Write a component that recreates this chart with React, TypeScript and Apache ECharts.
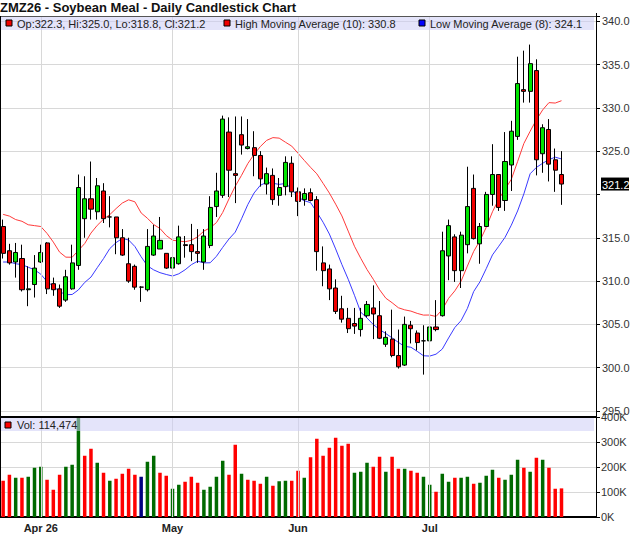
import React, { useEffect, useRef } from "react";
import * as echarts from "echarts";

// ---- data ----
const dates: string[] = [
  "2026-03-24", "2026-03-25", "2026-03-26", "2026-03-27", "2026-03-30", "2026-03-31",
  "2026-04-01", "2026-04-02", "2026-04-06", "2026-04-07", "2026-04-08", "2026-04-09", "2026-04-10",
  "2026-04-13", "2026-04-14", "2026-04-15", "2026-04-16", "2026-04-17",
  "2026-04-20", "2026-04-21", "2026-04-22", "2026-04-23", "2026-04-24",
  "2026-04-27", "2026-04-28", "2026-04-29", "2026-04-30",
  "2026-05-01", "2026-05-04", "2026-05-05", "2026-05-06", "2026-05-07", "2026-05-08",
  "2026-05-11", "2026-05-12", "2026-05-13", "2026-05-14", "2026-05-15",
  "2026-05-18", "2026-05-19", "2026-05-20", "2026-05-21", "2026-05-22",
  "2026-05-26", "2026-05-27", "2026-05-28", "2026-05-29",
  "2026-06-01", "2026-06-02", "2026-06-03", "2026-06-04", "2026-06-05",
  "2026-06-08", "2026-06-09", "2026-06-10", "2026-06-11", "2026-06-12",
  "2026-06-15", "2026-06-16", "2026-06-17", "2026-06-18",
  "2026-06-22", "2026-06-23", "2026-06-24", "2026-06-25", "2026-06-26",
  "2026-06-29", "2026-06-30",
  "2026-07-01", "2026-07-02", "2026-07-06", "2026-07-07", "2026-07-08", "2026-07-09", "2026-07-10",
  "2026-07-13", "2026-07-14", "2026-07-15", "2026-07-16", "2026-07-17",
  "2026-07-20", "2026-07-21", "2026-07-22", "2026-07-23", "2026-07-24",
  "2026-07-27", "2026-07-28", "2026-07-29", "2026-07-30", "2026-07-31",
];
const futureDates: string[] = ["2026-08-03", "2026-08-04", "2026-08-05", "2026-08-06", "2026-08-07"];

const monthLabels: Record<string, string> = {
  "2026-04-01": "Apr 26",
  "2026-05-01": "May",
  "2026-06-01": "Jun",
  "2026-07-01": "Jul",
};

const opens: number[] = [
  316.3, 313.5, 312.2, 312.6, 309.0, 309.6, 312.2, 314.4, 309.7, 309.1,
  307.8, 309.1, 311.8, 317.2, 319.5, 318.0, 320.4, 317.4, 317.4, 315.0,
  312.0, 311.7, 309.3, 309.0, 313.0, 313.7, 313.2, 311.5, 312.0, 314.2,
  314.2, 313.4, 312.2, 314.1, 318.6, 319.9, 327.2, 322.4, 326.9, 325.3,
  325.4, 324.5, 321.2, 322.2, 319.9, 320.9, 323.6, 320.3, 319.4, 320.2,
  319.4, 312.1, 311.4, 309.2, 306.8, 305.7, 305.1, 304.4, 306.0, 306.9,
  306.0, 302.7, 303.3, 301.4, 300.3, 304.9, 304.0, 303.1, 303.1, 304.7,
  306.0, 312.9, 315.1, 311.2, 314.2, 320.7, 314.3, 316.3, 320.0, 322.3,
  319.3, 323.4, 326.7, 332.1, 331.9, 334.3, 324.7, 327.5, 324.0, 322.3,
];
const closes: number[] = [
  313.2, 312.1, 313.3, 309.0, 309.1, 311.5, 313.3, 309.1, 309.0, 307.1,
  310.5, 312.1, 320.8, 319.5, 318.3, 321.0, 317.2, 317.4, 315.0, 313.0,
  310.0, 309.3, 309.3, 314.0, 315.2, 314.7, 311.5, 312.7, 315.1, 314.1,
  313.4, 313.2, 315.2, 318.5, 320.4, 328.7, 322.8, 322.2, 325.7, 325.5,
  324.5, 321.8, 322.4, 319.4, 320.8, 323.7, 320.3, 319.2, 320.1, 319.3,
  313.4, 311.2, 309.1, 306.5, 305.6, 304.5, 304.8, 305.7, 307.3, 306.2,
  303.4, 303.5, 301.4, 300.1, 305.0, 304.5, 302.9, 303.1, 304.7, 304.4,
  313.5, 316.4, 311.2, 315.3, 318.6, 314.9, 316.3, 320.0, 322.3, 318.5,
  323.8, 327.3, 332.8, 331.9, 335.1, 324.0, 327.7, 323.5, 322.8, 321.2,
];
const highs: number[] = [
  317.1, 314.3, 314.4, 314.2, 311.7, 313.0, 314.2, 314.5, 310.4, 309.6,
  311.3, 314.2, 322.3, 322.1, 323.8, 321.9, 321.3, 319.8, 317.4, 316.0,
  315.0, 311.9, 309.4, 316.0, 316.5, 317.4, 313.2, 314.4, 316.4, 315.2,
  316.6, 316.0, 316.0, 319.8, 322.5, 329.1, 328.9, 329.0, 329.0, 328.7,
  327.3, 325.0, 323.1, 323.0, 321.9, 324.4, 324.4, 320.8, 320.7, 320.7,
  319.8, 314.0, 311.9, 310.2, 308.3, 306.9, 306.9, 306.9, 307.7, 309.5,
  307.7, 304.2, 306.7, 304.4, 305.9, 305.4, 304.3, 304.9, 307.8, 307.8,
  315.7, 317.1, 315.4, 315.7, 323.2, 322.3, 316.7, 320.3, 325.8, 322.3,
  327.2, 328.5, 335.9, 336.6, 337.3, 335.6, 328.1, 328.7, 325.3, 325.0,
];
const lows: number[] = [
  312.6, 311.9, 310.4, 308.8, 307.1, 308.1, 312.1, 308.5, 308.3, 306.9,
  307.6, 309.0, 311.3, 315.0, 317.1, 317.1, 316.7, 316.2, 313.1, 312.9,
  309.8, 309.0, 307.6, 308.8, 312.9, 313.7, 311.4, 311.4, 311.9, 312.7,
  312.3, 312.1, 311.3, 313.8, 317.4, 319.6, 319.7, 319.0, 324.6, 325.2,
  322.1, 320.9, 320.0, 318.8, 318.7, 319.9, 319.7, 317.5, 318.7, 319.2,
  311.2, 309.4, 307.8, 306.2, 305.2, 304.0, 303.9, 303.6, 305.8, 303.3,
  303.3, 302.4, 301.2, 299.9, 300.2, 302.8, 302.0, 299.2, 303.0, 304.2,
  305.9, 310.1, 309.9, 309.2, 313.2, 314.8, 312.0, 316.3, 318.7, 318.1,
  318.1, 320.4, 326.3, 330.6, 330.6, 322.2, 322.5, 321.5, 320.3, 318.8,
];
const volumes: number[] = [
  145000, 169000, 157000, 157000, 161000, 197000, 201000, 149000, 109000, 169000,
  201000, 209000, 412000, 245000, 273000, 217000, 177000, 145000, 153000, 173000,
  193000, 169000, 161000, 221000, 245000, 177000, 165000, 113000, 129000, 141000,
  161000, 137000, 109000, 121000, 161000, 225000, 169000, 289000, 173000, 149000,
  145000, 133000, 161000, 125000, 143000, 145000, 145000, 185000, 157000, 239000,
  313000, 245000, 277000, 317000, 285000, 293000, 177000, 181000, 217000, 201000,
  241000, 181000, 241000, 193000, 193000, 185000, 177000, 161000, 129000, 101000,
  173000, 141000, 157000, 157000, 161000, 133000, 137000, 165000, 189000, 157000,
  149000, 169000, 229000, 197000, 181000, 237000, 229000, 197000, 113000, 114474,
];
// moving-average values at the left edge (their earlier days are not on the chart)
const highMaLead: number[] = [317.7, 317.5, 317.1, 316.9, 316.5, 316.4, 316.3, 315.5, 314.5];
const lowMaLead: number[] = [312.2, 312.2, 312.0, 311.9, 311.6, 311.3, 310.8];
const HIGH_MA_N = 10;
const LOW_MA_N = 8;

const UP_CANDLE = "#00e400";
const DOWN_CANDLE = "#f00000";
const UP_VOL = "#006a00";
const DOWN_VOL = "#ff0000";
const FLAT_VOL = "#000080";
const GRID = "#d8d8d8";
const FONT = "'Liberation Sans', Arial, sans-serif";

function avg(a: number[]) {
  return a.reduce((s, v) => s + v, 0) / a.length;
}

export default function App() {
  const ref = useRef<HTMLDivElement>(null);
  useEffect(() => {
    if (!ref.current) return;
    const chart = echarts.init(ref.current, null, { renderer: "svg" });
    const n = dates.length;
    const cats = [...dates, ...futureDates];
    const candleData = dates.map((_, i) => [opens[i], closes[i], lows[i], highs[i]]);
    const highMa = highs.map((_, i) =>
      i < HIGH_MA_N - 1 ? highMaLead[i] : avg(highs.slice(i - HIGH_MA_N + 1, i + 1))
    );
    const lowMa = lows.map((_, i) =>
      i < LOW_MA_N - 1 ? lowMaLead[i] : avg(lows.slice(i - LOW_MA_N + 1, i + 1))
    );
    const volData = volumes.map((v, i) => {
      const prev = i === 0 ? opens[0] : closes[i - 1];
      const c = closes[i] > prev ? UP_VOL : closes[i] < prev ? DOWN_VOL : FLAT_VOL;
      return { value: v, itemStyle: { color: c } };
    });
    const last = n - 1;
    const lastClose = closes[last];
    const vLines = Object.keys(monthLabels).map((d) => ({ xAxis: d }));
    const vLineStyle = { color: GRID, width: 1, type: "solid" as const };

    const legendText = (x: number, y: number, text: string) => ({
      type: "text",
      x,
      y,
      z: 102,
      style: { text, fill: "#222", font: `11px ${FONT}`, textVerticalAlign: "middle" },
    });
    const square = (x: number, y: number, fill: string) => ({
      type: "rect",
      z: 102,
      shape: { x, y, width: 6, height: 6 },
      style: { fill, stroke: "#000", lineWidth: 1 },
    });

    const graphics: any[] = [
      // price pane legend strip
      {
        type: "rect",
        z: 100,
        shape: { x: 0, y: 16, width: 594, height: 14 },
        style: { fill: "rgba(205,205,245,0.55)" },
      },
      {
        type: "line",
        z: 101,
        shape: { x1: 0, y1: 16.5, x2: 596, y2: 16.5 },
        style: { stroke: "#555", lineWidth: 1 },
      },
      square(6, 20, DOWN_CANDLE),
      legendText(
        17,
        23.5,
        `Op:${opens[last].toFixed(1)}, Hi:${highs[last].toFixed(1)}, Lo:${lows[last].toFixed(
          1
        )}, Cl:${closes[last].toFixed(1)}`
      ),
      square(224, 20, DOWN_CANDLE),
      legendText(235, 23.5, `High Moving Average (${HIGH_MA_N}): ${highMa[last].toFixed(1)}`),
      square(419, 20, "#0000ff"),
      legendText(430, 23.5, `Low Moving Average (${LOW_MA_N}): ${lowMa[last].toFixed(1)}`),
      // volume pane legend strip
      {
        type: "rect",
        z: 100,
        shape: { x: 0, y: 418, width: 594, height: 13 },
        style: { fill: "rgba(205,205,245,0.55)" },
      },
      {
        type: "line",
        z: 101,
        shape: { x1: 0, y1: 417, x2: 596, y2: 417 },
        style: { stroke: "#000", lineWidth: 2 },
      },
      square(5, 422, DOWN_VOL),
      legendText(17, 425, `Vol: ${volumes[last].toLocaleString("en-US")}`),
      // frame lines
      {
        type: "line",
        z: 101,
        shape: { x1: 0.5, y1: 16, x2: 0.5, y2: 517 },
        style: { stroke: "#000", lineWidth: 1 },
      },
      {
        type: "line",
        z: 101,
        shape: { x1: 596.5, y1: 13, x2: 596.5, y2: 518 },
        style: { stroke: "#000", lineWidth: 1 },
      },
    ];

    chart.setOption({
      animation: false,
      textStyle: { fontFamily: FONT },
      title: {
        text: "ZMZ26 - Soybean Meal - Daily Candlestick Chart",
        left: 0,
        top: 0,
        padding: [1, 0, 0, 0],
        textStyle: { fontSize: 13, fontWeight: "bold", color: "#111", fontFamily: FONT },
      },
      grid: [
        { left: 0, right: 44, top: 16, height: 395 },
        { left: 0, right: 44, top: 417, height: 100 },
      ],
      xAxis: [
        {
          type: "category",
          gridIndex: 0,
          data: cats,
          boundaryGap: true,
          axisLine: { show: false },
          axisTick: { show: false },
          axisLabel: { show: false },
          splitLine: { show: false },
        },
        {
          type: "category",
          gridIndex: 1,
          data: cats,
          boundaryGap: true,
          axisLine: { show: true, lineStyle: { color: "#000", width: 2 } },
          axisTick: { show: false },
          axisLabel: {
            show: true,
            interval: (_i: number, v: string) => !!monthLabels[v],
            formatter: (v: string) => monthLabels[v] || "",
            fontSize: 11,
            fontWeight: "bold",
            color: "#222",
            margin: 5,
          },
          splitLine: { show: false },
        },
      ],
      yAxis: [
        {
          type: "value",
          gridIndex: 0,
          position: "right",
          min: 295,
          max: 340.6,
          interval: 5,
          axisLine: { show: true, lineStyle: { color: "#000" } },
          axisTick: { show: true, length: 4, lineStyle: { color: "#000" } },
          axisLabel: {
            fontSize: 11,
            color: "#333",
            margin: 6,
            hideOverlap: false,
            formatter: (v: number) => {
              const r = Math.round(v * 10) / 10;
              if (Math.abs(r / 5 - Math.round(r / 5)) > 1e-6) return "";
              if (Math.abs(r - lastClose) < 1.5) return "";
              return r.toFixed(1);
            },
          },
          splitLine: { show: true, lineStyle: { color: GRID, width: 1 } },
        },
        {
          type: "value",
          gridIndex: 1,
          position: "right",
          min: 0,
          max: 400000,
          interval: 100000,
          axisLine: { show: true, lineStyle: { color: "#000" } },
          axisTick: { show: true, length: 4, lineStyle: { color: "#000" } },
          axisLabel: {
            fontSize: 11,
            color: "#333",
            margin: 5,
            formatter: (v: number) => `${Math.round(v / 1000)}K`,
          },
          splitLine: { show: true, lineStyle: { color: GRID, width: 1 } },
        },
      ],
      series: [
        {
          type: "line",
          name: "priceGridV",
          xAxisIndex: 0,
          yAxisIndex: 0,
          data: closes,
          symbol: "none",
          lineStyle: { opacity: 0 },
          silent: true,
          z: 0,
          markLine: {
            silent: true,
            symbol: ["none", "none"],
            label: { show: false },
            lineStyle: vLineStyle,
            data: vLines,
          },
        },
        {
          type: "line",
          name: "volGridV",
          xAxisIndex: 1,
          yAxisIndex: 1,
          data: volumes,
          symbol: "none",
          lineStyle: { opacity: 0 },
          silent: true,
          z: 0,
          markLine: {
            silent: true,
            symbol: ["none", "none"],
            label: { show: false },
            lineStyle: vLineStyle,
            data: vLines,
          },
        },
        {
          type: "line",
          name: "High Moving Average",
          xAxisIndex: 0,
          yAxisIndex: 0,
          data: highMa.map((v) => Math.round(v * 100) / 100),
          symbol: "none",
          smooth: false,
          lineStyle: { color: "#ff3a3a", width: 1 },
          z: 3,
        },
        {
          type: "line",
          name: "Low Moving Average",
          xAxisIndex: 0,
          yAxisIndex: 0,
          data: lowMa.map((v) => Math.round(v * 100) / 100),
          symbol: "none",
          smooth: false,
          lineStyle: { color: "#3a3aff", width: 1 },
          z: 3,
        },
        {
          type: "candlestick",
          name: "ZMZ26",
          xAxisIndex: 0,
          yAxisIndex: 0,
          data: candleData,
          barWidth: 4.6,
          z: 4,
          itemStyle: {
            color: UP_CANDLE,
            color0: DOWN_CANDLE,
            borderColor: "#000",
            borderColor0: "#000",
            borderColorDoji: "#000",
            borderWidth: 1,
          },
        },
        {
          type: "bar",
          name: "Volume",
          xAxisIndex: 1,
          yAxisIndex: 1,
          data: volData,
          barWidth: 3.5,
          clip: true,
          z: 3,
        },
      ],
      graphic: graphics,
    });

    // last-price box on the price axis, placed through the axis scale
    const py = chart.convertToPixel({ yAxisIndex: 0 }, lastClose) as number;
    const label = lastClose.toFixed(1);
    chart.setOption({
      graphic: [
        ...graphics,
        {
          type: "rect",
          z: 103,
          shape: { x: 601, y: py - 6.5, width: 28, height: 13 },
          style: { fill: "#000" },
        },
        {
          type: "text",
          z: 104,
          x: 602,
          y: py + 0.5,
          style: {
            text: label,
            fill: "#fff",
            font: `11px ${FONT}`,
            textVerticalAlign: "middle",
          },
        },
      ],
    });
    return () => chart.dispose();
  }, []);
  return (
    <div
      ref={ref}
      style={{ position: "absolute", left: 0, top: 0, width: 640, height: 536 }}
    />
  );
}
